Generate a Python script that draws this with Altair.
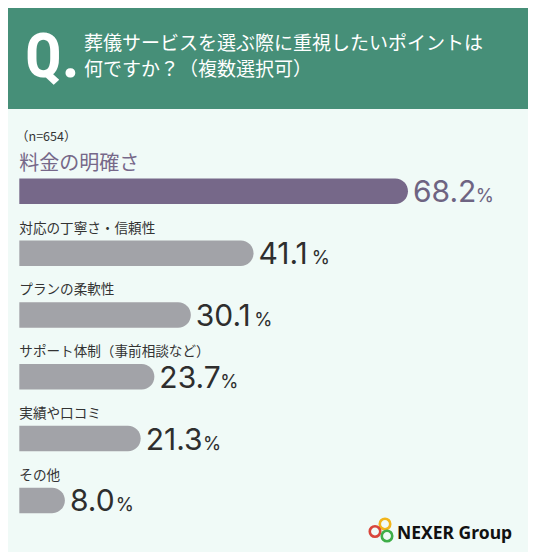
import altair as alt
import pandas as pd

categories = ["料金の明確さ", "対応の丁寧さ・信頼性", "プランの柔軟性",
              "サポート体制（事前相談など）", "実績や口コミ", "その他"]
values = [68.2, 41.1, 30.1, 23.7, 21.3, 8.0]
value_labels = ["68.2", "41.1", "30.1", "23.7", "21.3", "8.0"]

title_line1 = "葬儀サービスを選ぶ際に重視したいポイントは"
title_line2 = "何ですか？（複数選択可）"
sample_note = "（n=654）"
brand = "NEXER Group"

GREEN = "#468f78"
MINT = "#f0faf7"
PURPLE = "#766889"
GRAY = "#a2a3a8"
DARK = "#333333"

NUM_FONT = "Inter"
NUM_SIZE = 30
NUM_DX = 5
JP_FONT = "Noto Sans CJK JP"
X_DOMAIN = [-1.983, 89.26]
PX_PER_UNIT = 520 / (X_DOMAIN[1] - X_DOMAIN[0])

# approximate advance widths (em) to place the small % sign after each number
adv = {"0": 0.62, "1": 0.42, "2": 0.58, "3": 0.60, "4": 0.62, "5": 0.58,
       "6": 0.60, "7": 0.54, "8": 0.60, "9": 0.60, ".": 0.26}

df = pd.DataFrame({
    "idx": list(range(len(categories))),
    "label": categories,
    "value": values,
    "vtxt": value_labels,
})
df["barcol"] = [PURPLE] + [GRAY] * (len(df) - 1)
df["numcol"] = ["#6e6482"] + ["#2e2e2e"] * (len(df) - 1)
df["pdx"] = [NUM_DX + 1.5 + sum(adv[c] for c in s) * NUM_SIZE for s in value_labels]

xs = alt.Scale(domain=X_DOMAIN, nice=False, zero=False)
ys = alt.Scale(domain=[-2.886, 5.754], nice=False, zero=False, reverse=True)
X = alt.X("value:Q", scale=xs, axis=None)
Y = alt.Y("idx:Q", scale=ys, axis=None)
X0 = alt.X(datum=0, scale=xs, axis=None)

base = alt.Chart(df)

bars = base.mark_bar(orient="horizontal", size=25.5,
                     cornerRadiusTopRight=12.75, cornerRadiusBottomRight=12.75).encode(
    x=X, x2=alt.X2(datum=0), y=Y, color=alt.Color("barcol:N", scale=None))

lab_top = base.transform_filter("datum.idx == 0").mark_text(
    align="left", baseline="middle", font=JP_FONT, fontSize=20, dy=-27.5, color=PURPLE
).encode(x=X0, y=Y, text="label:N")

lab_rest = base.transform_filter("datum.idx > 0").mark_text(
    align="left", baseline="middle", font=JP_FONT, fontSize=13.6, dy=-24.5, color=DARK
).encode(x=X0, y=Y, text="label:N")

nums = base.mark_text(
    align="left", baseline="alphabetic", font=NUM_FONT, fontSize=NUM_SIZE, dx=NUM_DX, dy=11
).encode(x=X, y=Y, text="vtxt:N", color=alt.Color("numcol:N", scale=None))

pcts = base.transform_calculate(
    p="'%'", xp=f"datum.value + datum.pdx / {PX_PER_UNIT}"
).mark_text(
    align="left", baseline="alphabetic", font=NUM_FONT, fontSize=18.5, dy=11
).encode(x=alt.X("xp:Q", scale=xs, axis=None), y=Y, text="p:N",
         color=alt.Color("numcol:N", scale=None))

one = alt.Chart(pd.DataFrame({"k": [0]}))

header = one.mark_rect(color=GREEN).encode(
    x=alt.value(0), x2=alt.value(520), y=alt.value(-10), y2=alt.value(101))

q_mark = one.mark_text(
    text="Q.", align="left", baseline="alphabetic", color="white", fontWeight="bold",
    font="Liberation Sans Narrow, Roboto Condensed, Roboto", fontSize=61
).encode(x=alt.value(17), y=alt.value(69))

t1 = one.mark_text(text=title_line1, align="left", baseline="middle", color="white",
                   font=JP_FONT, fontSize=19).encode(x=alt.value(76), y=alt.value(35.5))
t2 = one.mark_text(text=title_line2, align="left", baseline="middle", color="white",
                   font=JP_FONT, fontSize=19).encode(x=alt.value(76), y=alt.value(62))

note = one.mark_text(text=sample_note, align="left", baseline="middle", color=DARK,
                     font=JP_FONT, fontSize=12.5).encode(x=alt.value(8), y=alt.value(128.5))

ring_o = one.mark_point(shape="circle", filled=False, size=110, strokeWidth=2.6, color="#f2b51c",
                        opacity=1).encode(x=alt.value(377), y=alt.value(516))
ring_r = one.mark_point(shape="circle", filled=False, size=110, strokeWidth=2.6, color="#d9453b",
                        opacity=1).encode(x=alt.value(367), y=alt.value(523.5))
ring_g = one.mark_point(shape="circle", filled=False, size=110, strokeWidth=2.6, color="#3fae49",
                        opacity=1).encode(x=alt.value(379), y=alt.value(528))
brand_t = one.mark_text(text=brand, align="left", baseline="alphabetic", color="#111111",
                        font="Noto Sans", fontWeight="bold", fontSize=17.5
                        ).encode(x=alt.value(389), y=alt.value(530.5))

chart = alt.layer(
    header, q_mark, t1, t2, note, bars, lab_top, lab_rest, nums, pcts,
    ring_o, ring_r, ring_g, brand_t
).properties(
    width=520, height=544, autosize=alt.AutoSizeParams(type="none"), padding=0,
    background=MINT
).configure_view(stroke=None)

chart.save("out.html", embed_options={"renderer": "svg", "actions": False})
